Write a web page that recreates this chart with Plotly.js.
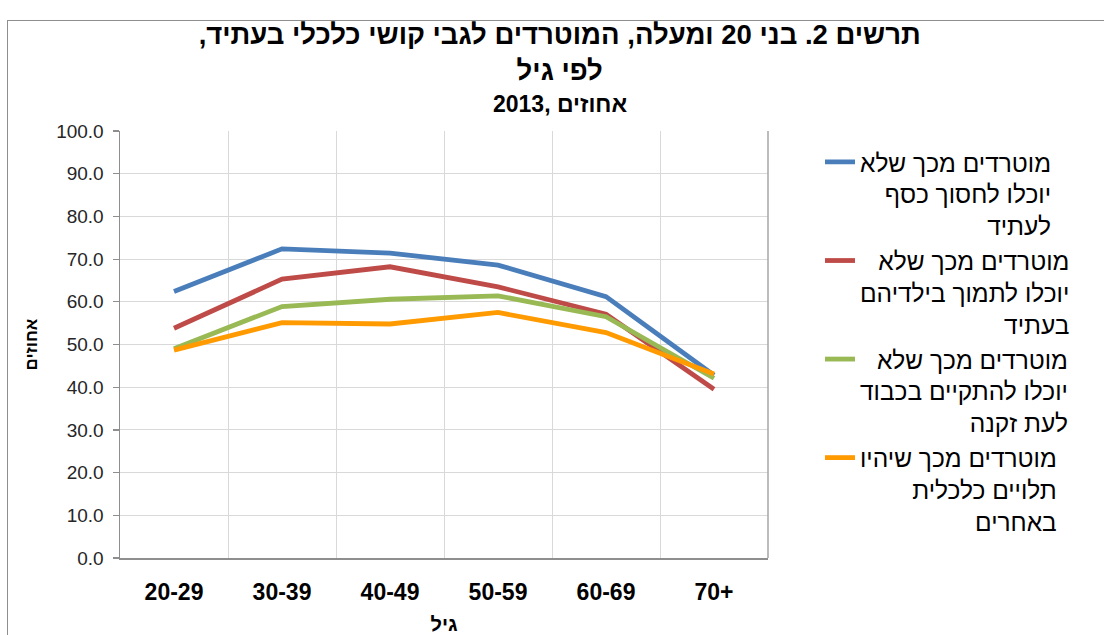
<!DOCTYPE html>
<html>
<head>
<meta charset="utf-8">
<script src="https://cdn.plot.ly/plotly-3.0.1.min.js"></script>
<style>
  html, body { margin: 0; padding: 0; background: #ffffff; }
  #frame { position: absolute; left: 7px; top: 20px; width: 1200px; height: 700px;
           border-left: 1.5px solid #8e8e8e; border-top: 1.5px solid #8e8e8e; }
  #chart { position: absolute; left: 0; top: 0; width: 1104px; height: 635px; }
</style>
</head>
<body>
<div id="frame"></div>
<div id="chart"></div>
<script>
// ---- data (percent, 2013) ----
const ages = ['20-29', '30-39', '40-49', '50-59', '60-69', '70+'];
const saveMoney       = [62.4, 72.4, 71.4, 68.6, 61.2, 42.8];
const supportChildren = [53.8, 65.3, 68.2, 63.5, 57.1, 39.5];
const dignifiedOldAge = [49.0, 58.9, 60.6, 61.4, 56.5, 42.1];
const dependOnOthers  = [48.7, 55.1, 54.8, 57.5, 52.8, 43.1];

const seriesNames = [
  'מוטרדים מכך שלא<br>יוכלו לחסוך כסף<br>לעתיד',
  'מוטרדים מכך שלא<br>יוכלו לתמוך בילדיהם<br>בעתיד',
  'מוטרדים מכך שלא<br>יוכלו להתקיים בכבוד<br>לעת זקנה',
  'מוטרדים מכך שיהיו<br>תלויים כלכלית<br>באחרים'
];
const seriesValues = [saveMoney, supportChildren, dignifiedOldAge, dependOnOthers];
const seriesColors = ['#4a7ebb', '#be4b48', '#98b954', '#ff9a00'];

// RLM / LRM marks keep the punctuation on the correct side
const titleLine1 = '\u200Fתרשים 2. בני 20 ומעלה, המוטרדים לגבי קושי כלכלי בעתיד,\u200F';
const titleLine2 = '\u200Fלפי גיל\u200F';
const titleLine3 = '\u200E2013, אחוזים';
const xTitle = 'גיל';
const yTitle = 'אחוזים';

const FONT = '"Liberation Sans", Arial, "DejaVu Sans", sans-serif';

const traces = seriesValues.map((vals, i) => ({
  type: 'scatter',
  mode: 'lines',
  x: ages,
  y: vals,
  name: seriesNames[i],
  legendgroup: 'g' + i,
  line: { color: seriesColors[i], width: 4.8 },
  hoverinfo: 'x+y'
}));

const layout = {
  width: 1104,
  height: 635,
  paper_bgcolor: 'rgba(0,0,0,0)',
  plot_bgcolor: '#ffffff',
  margin: { l: 120, r: 336, t: 131, b: 77 },
  font: { family: FONT, color: '#000000' },
  title: {
    text: titleLine1 + '<br>' + titleLine2,
    x: 0.507, xref: 'container', xanchor: 'center',
    y: 1 - 44 / 635, yref: 'container', yanchor: 'top',
    font: { family: FONT, size: 27.5, color: '#000000', weight: 'bold' }
  },
  annotations: [
    { text: titleLine3, xref: 'paper', yref: 'paper',
      x: (560 - 120) / 648, y: (558 - 104) / 427,
      xanchor: 'center', yanchor: 'middle', showarrow: false,
      font: { family: FONT, size: 23, color: '#000000', weight: 'bold' } }
  ],
  showlegend: true,
  legend: {
    x: (820 - 120) / 648, xanchor: 'left',
    y: 0.98, yanchor: 'top',
    maxheight: 600,
    font: { family: FONT, size: 24.5, color: '#000000' },
    valign: 'top',
    tracegroupgap: 0,
    bgcolor: 'rgba(0,0,0,0)'
  },
  xaxis: {
    type: 'category',
    categoryorder: 'array',
    categoryarray: ages,
    range: [-0.5, 5.5],
    tickson: 'boundaries',
    showgrid: true,
    gridcolor: '#d9d9d9',
    gridwidth: 1,
    ticks: '',
    showline: true,
    linecolor: '#8e8e8e',
    linewidth: 1.5,
    tickfont: { family: FONT, size: 23, color: '#000000', weight: 'bold' },
    ticklabelstandoff: 13,
    title: { text: xTitle, font: { family: FONT, size: 20, color: '#000000', weight: 'bold' }, standoff: 17 },
    zeroline: false,
    fixedrange: true
  },
  xaxis2: {
    overlaying: 'x',
    anchor: 'y',
    side: 'bottom',
    type: 'linear',
    range: [-0.5, 5.5],
    tickmode: 'linear',
    tick0: 0,
    dtick: 1,
    ticks: 'outside',
    ticklen: 8,
    tickwidth: 1.2,
    tickcolor: '#8e8e8e',
    showticklabels: false,
    showgrid: false,
    zeroline: false,
    showline: false,
    fixedrange: true
  },
  xaxis3: {
    overlaying: 'x',
    anchor: 'y',
    side: 'bottom',
    type: 'linear',
    range: [-0.5, 5.5],
    tickmode: 'linear',
    tick0: 0,
    dtick: 1,
    ticks: 'inside',
    ticklen: 7,
    tickwidth: 1.2,
    tickcolor: '#8e8e8e',
    showticklabels: false,
    showgrid: false,
    zeroline: false,
    showline: false,
    fixedrange: true
  },
  yaxis: {
    range: [0, 100],
    tickmode: 'linear',
    tick0: 0,
    dtick: 10,
    tickformat: '.1f',
    ticks: 'outside',
    ticklen: 6,
    tickwidth: 1.2,
    tickcolor: '#8e8e8e',
    showline: true,
    linecolor: '#8e8e8e',
    linewidth: 1.5,
    showgrid: true,
    gridcolor: '#d9d9d9',
    gridwidth: 1,
    zeroline: false,
    tickfont: { family: FONT, size: 19, color: '#262626' },
    ticklabelstandoff: 5,
    title: { text: yTitle, font: { family: FONT, size: 17, color: '#000000', weight: 'bold' }, standoff: 14 },
    fixedrange: true
  },
  shapes: [
    { type: 'line', xref: 'paper', yref: 'paper', x0: 1, x1: 1, y0: 0, y1: 1,
      line: { color: '#a6a6a6', width: 1.5 } }
  ]
};

Plotly.newPlot('chart', traces, layout, { displayModeBar: false, staticPlot: true }).then(function () {
  // right-align the lines of each legend entry (RTL text block)
  document.querySelectorAll('#chart .legend text.legendtext').forEach(function (t) {
    const spans = Array.prototype.slice.call(t.querySelectorAll('tspan.line'));
    if (spans.length < 2) return;
    const widths = spans.map(function (s) { return s.getComputedTextLength(); });
    const maxW = Math.max.apply(null, widths);
    spans.forEach(function (s, i) {
      const x0 = parseFloat(s.getAttribute('x') || t.getAttribute('x') || 0);
      s.setAttribute('x', x0 + (maxW - widths[i]));
    });
  });
});
</script>
</body>
</html>
